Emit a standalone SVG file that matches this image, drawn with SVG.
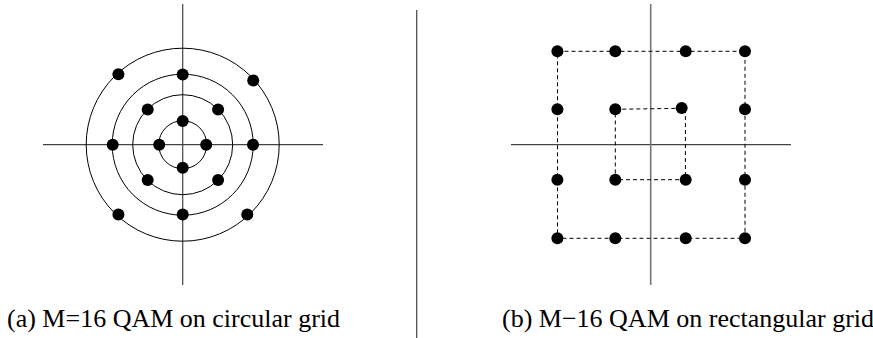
<svg xmlns="http://www.w3.org/2000/svg" width="873" height="338" viewBox="0 0 873 338">
<style>
.axis{stroke:#444;stroke-width:1.2;fill:none}
.ring{stroke:#000;stroke-width:1;fill:none}
.dash{stroke:#000;stroke-width:1;fill:none;stroke-dasharray:4 3}
.dot{fill:#000}
.lbl{font-family:"Liberation Serif","Times New Roman",serif;font-size:26px;fill:#000}
</style>
<rect width="873" height="338" fill="#fff"/>
<g id="circular">
<g id="circular-axes">
<line class="axis" x1="43" y1="144.7" x2="323" y2="144.7"/>
<line class="axis" x1="182.7" y1="4" x2="182.7" y2="285"/>
</g>
<g id="rings">
<circle class="ring" cx="182.7" cy="144.7" r="24"/>
<circle class="ring" cx="182.7" cy="144.7" r="50"/>
<circle class="ring" cx="182.7" cy="144.7" r="70.5"/>
<circle class="ring" cx="182.7" cy="144.7" r="96.5"/>
</g>
<g id="circular-points">
<circle class="dot" cx="159.2" cy="144.7" r="6"/>
<circle class="dot" cx="206.2" cy="144.7" r="6"/>
<circle class="dot" cx="182.7" cy="120.9" r="6"/>
<circle class="dot" cx="182.7" cy="167.7" r="6"/>
<circle class="dot" cx="147.7" cy="109.4" r="6"/>
<circle class="dot" cx="218.1" cy="109.4" r="6"/>
<circle class="dot" cx="147.7" cy="180" r="6"/>
<circle class="dot" cx="218.1" cy="180" r="6"/>
<circle class="dot" cx="112.7" cy="144.7" r="6"/>
<circle class="dot" cx="253" cy="144.7" r="6"/>
<circle class="dot" cx="182.7" cy="74.4" r="6"/>
<circle class="dot" cx="182.7" cy="214.4" r="6"/>
<circle class="dot" cx="118.4" cy="74.3" r="6"/>
<circle class="dot" cx="253.2" cy="80.5" r="6"/>
<circle class="dot" cx="118.4" cy="214.4" r="6"/>
<circle class="dot" cx="247.3" cy="214.6" r="6"/>
</g>
</g>
<g id="divider">
<line x1="416.7" y1="10" x2="416.7" y2="338" stroke="#444" stroke-width="1.2"/>
</g>
<g id="rectangular">
<g id="rect-axes">
<line class="axis" x1="511" y1="144.7" x2="791" y2="144.7"/>
<line x1="650.7" y1="4" x2="650.7" y2="285" stroke="#777" stroke-width="1.6"/>
</g>
<g id="connectors">
<rect class="dash" x="557.5" y="51.3" width="187.5" height="187"/>
<polyline class="dash" points="615.3,109.3 681.7,108.3 685.4,109.3 685.4,179.7 615.3,179.7 615.3,109.3"/>
</g>
<g id="rect-points">
<circle class="dot" cx="557.4" cy="51.3" r="6"/>
<circle class="dot" cx="615.3" cy="51.3" r="6"/>
<circle class="dot" cx="685.7" cy="51.3" r="6"/>
<circle class="dot" cx="745" cy="51.3" r="6"/>
<circle class="dot" cx="557.4" cy="109.3" r="6"/>
<circle class="dot" cx="615.3" cy="109.3" r="6"/>
<circle class="dot" cx="681.7" cy="108" r="6"/>
<circle class="dot" cx="745" cy="109.3" r="6"/>
<circle class="dot" cx="557.4" cy="179.7" r="6"/>
<circle class="dot" cx="615.3" cy="179.7" r="6"/>
<circle class="dot" cx="685.7" cy="179.7" r="6"/>
<circle class="dot" cx="745" cy="179.7" r="6"/>
<circle class="dot" cx="557.4" cy="238.3" r="6"/>
<circle class="dot" cx="615.3" cy="238.3" r="6"/>
<circle class="dot" cx="685.7" cy="238.3" r="6"/>
<circle class="dot" cx="745" cy="238.3" r="6"/>
</g>
</g>
<g id="captions">
<text class="lbl" x="7" y="327">(a) M=16 QAM on circular grid</text>
<text class="lbl" x="502" y="327">(b) M−16 QAM on rectangular grid</text>
</g>
</svg>
